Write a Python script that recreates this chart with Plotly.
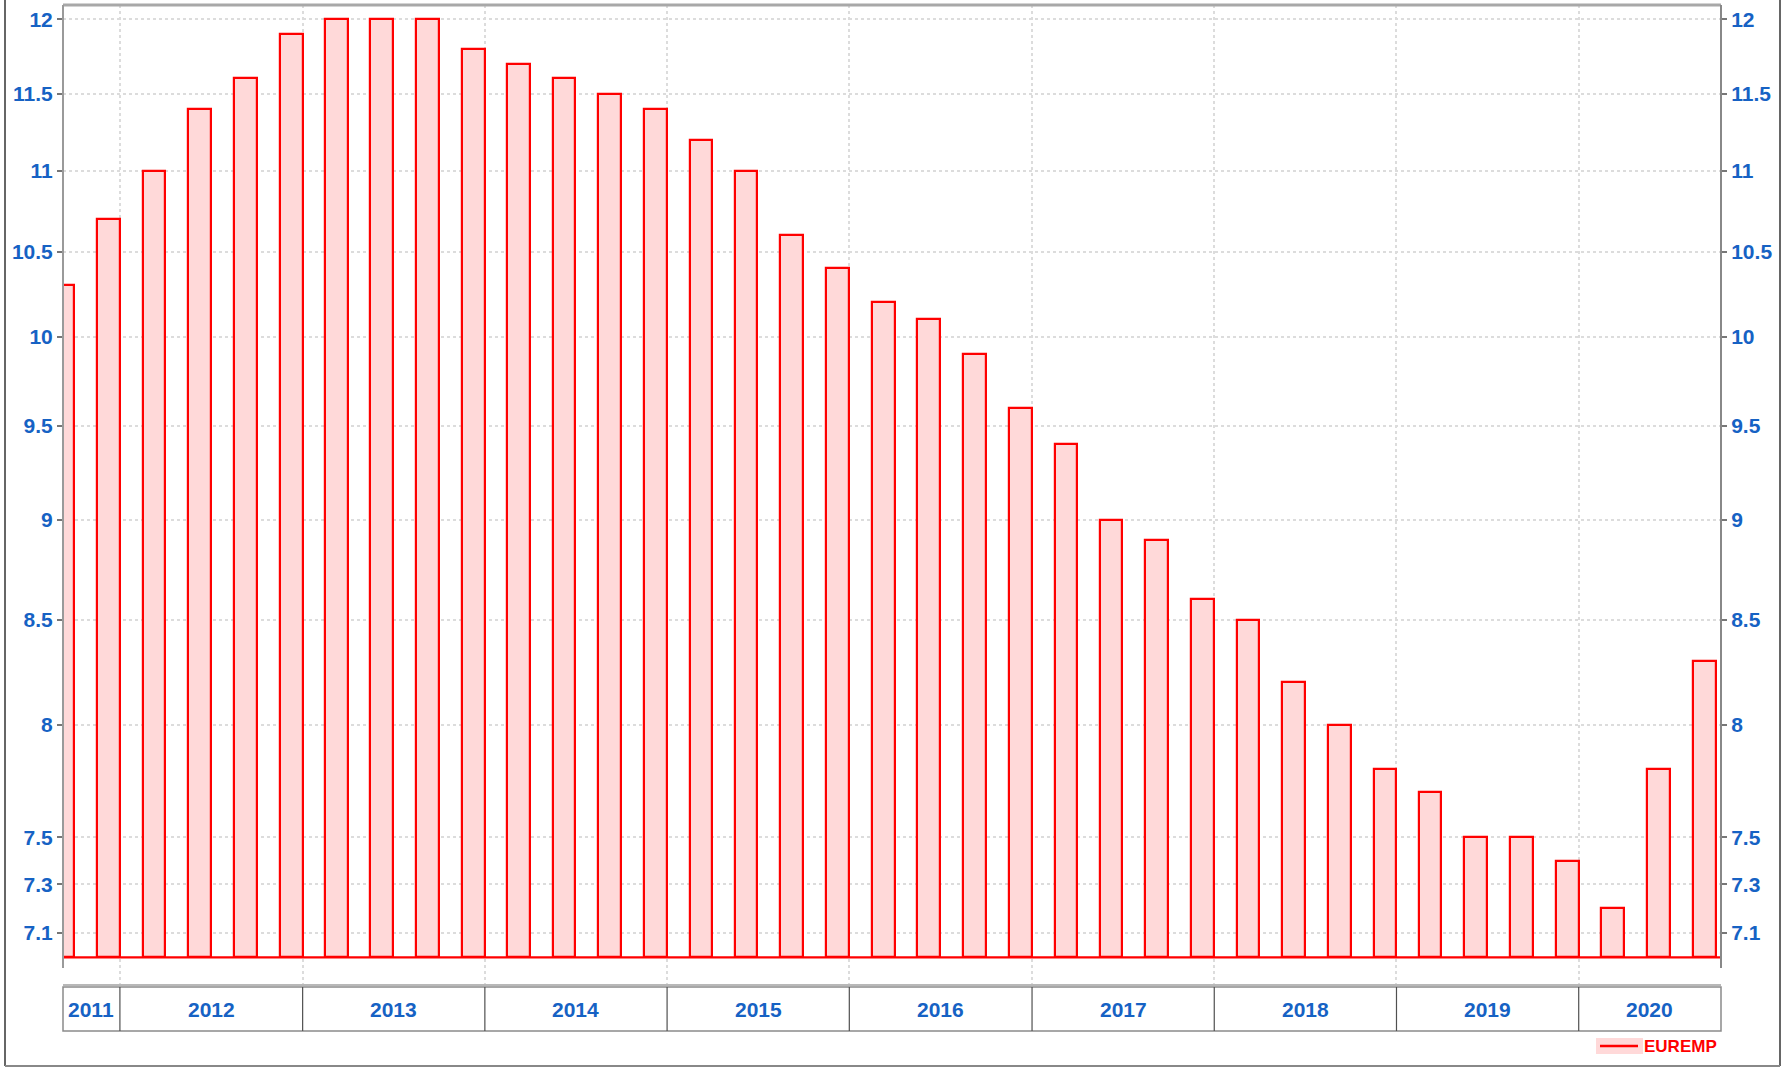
import math
import plotly.graph_objects as go
import pandas as pd

# ---------------- data ----------------
quarters = ["2011Q3", "2011Q4",
            "2012Q1", "2012Q2", "2012Q3", "2012Q4",
            "2013Q1", "2013Q2", "2013Q3", "2013Q4",
            "2014Q1", "2014Q2", "2014Q3", "2014Q4",
            "2015Q1", "2015Q2", "2015Q3", "2015Q4",
            "2016Q1", "2016Q2", "2016Q3", "2016Q4",
            "2017Q1", "2017Q2", "2017Q3", "2017Q4",
            "2018Q1", "2018Q2", "2018Q3", "2018Q4",
            "2019Q1", "2019Q2", "2019Q3", "2019Q4",
            "2020Q1", "2020Q2", "2020Q3"]
values = [10.3, 10.7,
          11.0, 11.4, 11.6, 11.9,
          12.0, 12.0, 12.0, 11.8,
          11.7, 11.6, 11.5, 11.4,
          11.2, 11.0, 10.6, 10.4,
          10.2, 10.1, 9.9, 9.6,
          9.4, 9.0, 8.9, 8.6,
          8.5, 8.2, 8.0, 7.8,
          7.7, 7.5, 7.5, 7.4,
          7.2, 7.8, 8.3]
ytick_vals = [7.1, 7.3, 7.5, 8, 8.5, 9, 9.5, 10, 10.5, 11, 11.5, 12]
ytick_text = ["7.1", "7.3", "7.5", "8", "8.5", "9", "9.5", "10", "10.5", "11", "11.5", "12"]
years = [2011, 2012, 2013, 2014, 2015, 2016, 2017, 2018, 2019, 2020]
series_name = "EUREMP"
base_value = 7.0
x_range = ["2011-09-09", "2020-10-12"]
y_range = [6.89, 12.1]

# ---------------- styles ----------------
W, H = 1787, 1067
L, R, T, B = 63, 66, 5, 82
PW, PH = W - L - R, H - T - B
BLUE = "#1662c4"
RED = "#ff0000"
PINK = "#ffd9d9"
FONT = "Liberation Sans, Arial, sans-serif"


def px_to_px(x):
    return (x - L) / PW


def py_to_py(y):
    return (H - B - y) / PH


periods = pd.PeriodIndex(quarters, freq="Q")
starts = periods.start_time
ends = (periods + 1).start_time
lengths = ends - starts
centers = starts + lengths * 0.75
widths_ms = [td.total_seconds() * 1000 * 0.5 for td in lengths]
heights = [v - base_value for v in values]

fig = go.Figure()
fig.add_trace(go.Bar(
    x=centers, y=heights, base=base_value, width=widths_ms,
    marker=dict(color=PINK, line=dict(color=RED, width=2.2)),
    name=series_name, showlegend=False, hoverinfo="skip",
))
fig.add_trace(go.Scatter(x=[centers[0]], y=[10], yaxis="y2", mode="markers",
                         marker=dict(opacity=0), showlegend=False, hoverinfo="skip"))

yaxis_common = dict(
    type="log", range=[math.log10(y_range[0]), math.log10(y_range[1])],
    tickvals=ytick_vals, ticktext=ytick_text,
    tickfont=dict(family=FONT, size=21, color=BLUE, weight="bold"),
    ticks="outside", ticklen=5, tickwidth=2, tickcolor="#777777",
    showline=False, zeroline=False, automargin=False,
)
fig.update_layout(
    width=W, height=H,
    margin=dict(l=L, r=R, t=T, b=B, autoexpand=False),
    paper_bgcolor="white", plot_bgcolor="white",
    bargap=0,
    xaxis=dict(type="date", range=x_range, showticklabels=False,
               tickvals=[f"{y}-01-01" for y in years[1:]],
               showgrid=True, gridcolor="#dcdcdc", gridwidth=1.5, griddash="dot",
               ticks="", zeroline=False, showline=False, automargin=False),
    yaxis=dict(**yaxis_common, side="left", showgrid=True,
               gridcolor="#dcdcdc", gridwidth=1.5, griddash="dot"),
    yaxis2=dict(**yaxis_common, side="right", overlaying="y", showgrid=False),
)

shapes = []
# baseline line across plot
shapes.append(dict(type="line", xref="paper", yref="y", x0=0, x1=1, y0=base_value, y1=base_value,
                   line=dict(color=RED, width=2.2), layer="above"))
# plot frame
shapes.append(dict(type="line", xref="paper", yref="paper", x0=0, x1=1, y0=1, y1=1,
                   line=dict(color="#a8a8a8", width=3)))
shapes.append(dict(type="line", xref="paper", yref="paper", x0=0, x1=1, y0=0, y1=0,
                   line=dict(color="#b8b8b8", width=2)))
shapes.append(dict(type="line", xref="paper", yref="paper", x0=0, x1=0, y0=py_to_py(968), y1=1,
                   line=dict(color="#9a9a9a", width=2)))
shapes.append(dict(type="line", xref="paper", yref="paper", x0=1, x1=1, y0=py_to_py(968), y1=1,
                   line=dict(color="#888888", width=2)))
# year box
yb0, yb1 = py_to_py(1031), py_to_py(987)
shapes.append(dict(type="rect", xref="paper", yref="paper", x0=0, x1=1, y0=yb0, y1=yb1,
                   line=dict(color="#8a8a8a", width=1.5), fillcolor="rgba(0,0,0,0)"))
for y in years[1:]:
    shapes.append(dict(type="line", xref="x", yref="paper", x0=f"{y}-01-01", x1=f"{y}-01-01",
                       y0=yb0, y1=yb1, line=dict(color="#505050", width=1.2)))
# outer frame
shapes.append(dict(type="line", xref="paper", yref="paper", x0=px_to_px(5), x1=px_to_px(5),
                   y0=py_to_py(1066), y1=py_to_py(0), line=dict(color="#666666", width=2)))
shapes.append(dict(type="line", xref="paper", yref="paper", x0=px_to_px(1780), x1=px_to_px(1780),
                   y0=py_to_py(1066), y1=py_to_py(0), line=dict(color="#666666", width=2)))
shapes.append(dict(type="line", xref="paper", yref="paper", x0=px_to_px(5), x1=px_to_px(1780),
                   y0=py_to_py(1066), y1=py_to_py(1066), line=dict(color="#888888", width=2)))
# legend
shapes.append(dict(type="rect", xref="paper", yref="paper", x0=px_to_px(1596), x1=px_to_px(1643),
                   y0=py_to_py(1054), y1=py_to_py(1038), fillcolor=PINK, line=dict(width=0)))
shapes.append(dict(type="line", xref="paper", yref="paper", x0=px_to_px(1600), x1=px_to_px(1638),
                   y0=py_to_py(1046), y1=py_to_py(1046), line=dict(color=RED, width=2.5)))

annotations = []
xr0, xr1 = pd.Timestamp(x_range[0]), pd.Timestamp(x_range[1])
for y in years:
    a = max(pd.Timestamp(f"{y}-01-01"), xr0)
    b = min(pd.Timestamp(f"{y + 1}-01-01"), xr1)
    mid = a + (b - a) / 2
    annotations.append(dict(x=mid, y=(yb0 + yb1) / 2, xref="x", yref="paper",
                            text=f"<b>{y}</b>", showarrow=False, yanchor="middle", xanchor="center",
                            font=dict(family=FONT, size=21, color=BLUE)))
annotations.append(dict(x=px_to_px(1642), y=py_to_py(1046), xref="paper", yref="paper",
                        text=f"<b>{series_name}</b>", showarrow=False, xanchor="left", yanchor="middle",
                        font=dict(family=FONT, size=17, color=RED)))

fig.update_layout(shapes=shapes, annotations=annotations)
fig.write_html("out.html", config={"displayModeBar": False},
               post_script="document.body.style.margin='0';document.body.style.overflow='hidden';")
